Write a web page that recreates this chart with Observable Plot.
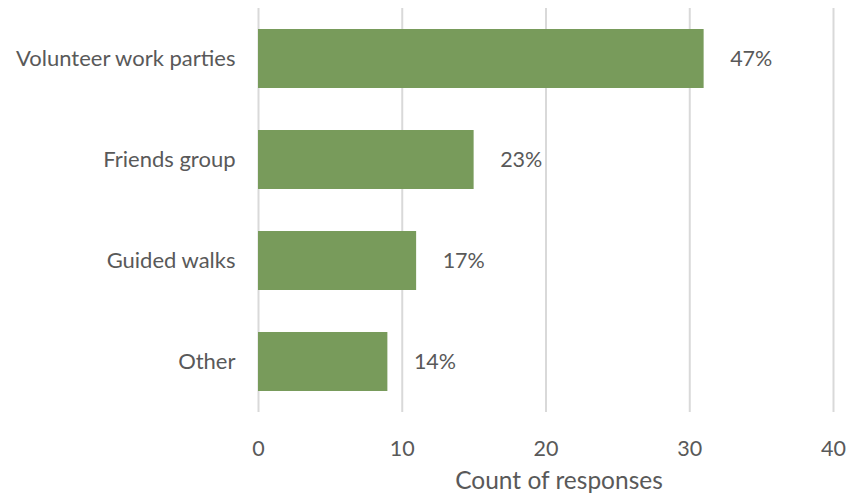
<!DOCTYPE html>
<html>
<head>
<meta charset="utf-8">
<script src="https://cdn.jsdelivr.net/npm/d3@7"></script>
<script src="https://cdn.jsdelivr.net/npm/@observablehq/plot@0.6"></script>
<style>
  html, body { margin: 0; padding: 0; background: #fff; }
  svg { font-family: Lato, "Open Sans", sans-serif; }
</style>
</head>
<body>
<div id="chart"></div>
<script>
const categories = ["Volunteer work parties", "Friends group", "Guided walks", "Other"];
const counts = [31, 15, 11, 9];
const percentLabels = ["47%", "23%", "17%", "14%"];
const xTicks = [0, 10, 20, 30, 40];
const xTitle = "Count of responses";

const data = categories.map((c, i) => ({category: c, count: counts[i], pct: percentLabels[i]}));

const textColor = "#595959";
const chart = Plot.plot({
  width: 850,
  height: 497,
  marginLeft: 258,
  marginRight: 17,
  marginTop: 8,
  marginBottom: 85,
  style: {fontFamily: "Lato, 'Open Sans', sans-serif", fontSize: "22px", color: textColor, background: "#fff"},
  x: {domain: [0, 40], ticks: xTicks},
  y: {domain: categories, paddingInner: 0.42, paddingOuter: 0.21},
  marks: [
    Plot.gridX(xTicks, {stroke: "#d9d9d9", strokeOpacity: 1, strokeWidth: 2}),
    Plot.barX(data, {x: "count", y: "category", fill: "#789b5b"}),
    Plot.text(data, {x: "count", y: "category", text: "pct", textAnchor: "start", dx: 26, fill: textColor, fontSize: 21.5}),
    Plot.axisX(xTicks, {tickSize: 0, tickPadding: 28, label: null, fill: textColor, fontSize: 21.5}),
    Plot.axisY({tickSize: 0, tickPadding: 23, label: null, fill: textColor, fontSize: 22}),
    Plot.text([xTitle], {frameAnchor: "bottom", dy: 76, dx: 13, fill: textColor, fontSize: 24.5})
  ]
});
document.getElementById("chart").appendChild(chart);
</script>
</body>
</html>
